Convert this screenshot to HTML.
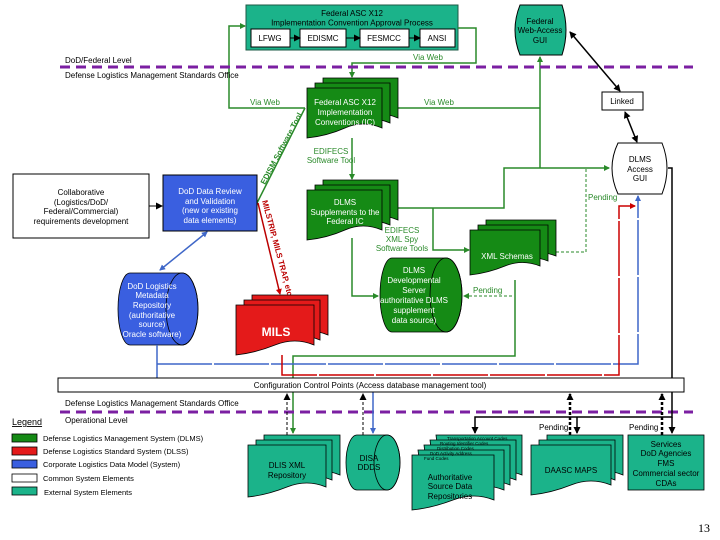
<!DOCTYPE html>
<html><head><meta charset="utf-8"><style>
html,body{margin:0;padding:0;background:#fff;}
svg{display:block;font-family:"Liberation Sans",Arial,sans-serif;}
</style></head><body>
<svg width="720" height="540" viewBox="0 0 720 540" xmlns="http://www.w3.org/2000/svg">
<defs>
<marker id="ag" markerWidth="6" markerHeight="6" refX="5" refY="3" orient="auto" markerUnits="userSpaceOnUse"><path d="M0,0 L6,3 L0,6 z" fill="#2a8a2a"/></marker>
<marker id="ak" markerWidth="7" markerHeight="7" refX="6" refY="3.5" orient="auto" markerUnits="userSpaceOnUse"><path d="M0,0 L7,3.5 L0,7 z" fill="#000"/></marker>
<marker id="aks" markerWidth="7" markerHeight="7" refX="1" refY="3.5" orient="auto" markerUnits="userSpaceOnUse"><path d="M7,0 L0,3.5 L7,7 z" fill="#000"/></marker>
<marker id="ab" markerWidth="6" markerHeight="6" refX="5" refY="3" orient="auto" markerUnits="userSpaceOnUse"><path d="M0,0 L6,3 L0,6 z" fill="#3f67c8"/></marker>
<marker id="abs" markerWidth="6" markerHeight="6" refX="1" refY="3" orient="auto" markerUnits="userSpaceOnUse"><path d="M6,0 L0,3 L6,6 z" fill="#3f67c8"/></marker>
<marker id="ar" markerWidth="6" markerHeight="6" refX="5" refY="3" orient="auto" markerUnits="userSpaceOnUse"><path d="M0,0 L6,3 L0,6 z" fill="#c00"/></marker>
</defs>

<!-- top approval box -->
<rect x="246" y="5" width="212" height="45" fill="#1bb38a" stroke="#1d5a45" stroke-width="1"/>
<text x="352" y="16" font-size="8" text-anchor="middle">Federal ASC X12</text>
<text x="352" y="25.5" font-size="8" text-anchor="middle">Implementation Convention Approval Process</text>
<g font-size="8" text-anchor="middle">
<rect x="251" y="29" width="39" height="18" fill="#fff" stroke="#000"/><text x="270" y="41">LFWG</text>
<rect x="300" y="29" width="46" height="18" fill="#fff" stroke="#000"/><text x="323" y="41">EDISMC</text>
<rect x="360" y="29" width="49" height="18" fill="#fff" stroke="#000"/><text x="384" y="41">FESMCC</text>
<rect x="420" y="29" width="35" height="18" fill="#fff" stroke="#000"/><text x="437" y="41">ANSI</text>
</g>
<g stroke="#000" stroke-width="1" marker-end="url(#ak)"><line x1="290" y1="38" x2="300" y2="38"/><line x1="346" y1="38" x2="360" y2="38"/><line x1="409" y1="38" x2="420" y2="38"/></g>

<!-- green top links -->
<g fill="none" stroke="#2a8a2a" stroke-width="1.5">
<polyline points="458,28 476,28 476,63 352,63 352,77" marker-end="url(#ag)"/>
<polyline points="305,108 229,108 229,26 245,26" marker-end="url(#ag)"/>
<polyline points="398,108 540,108"/>
<polyline points="540,168 540,57" marker-end="url(#ag)"/>
<polyline points="398,208 504,208 504,168 609,168" marker-end="url(#ag)"/>
<polyline points="433,208 433,250 469,250" marker-end="url(#ag)"/>
<polyline points="352,138 352,179" marker-end="url(#ag)"/>
<polyline points="352,238 352,296 378,296" marker-end="url(#ag)"/>
<polyline points="257,203 305,108"/>
<polyline points="515,280 515,356 293,356 293,433" marker-end="url(#ag)"/>
</g>
<g fill="none" stroke="#2a8a2a" stroke-width="1" stroke-dasharray="3,2">
<polyline points="556,252 586,252 586,168"/>
<polyline points="512,296 464,296" marker-end="url(#ag)"/>
</g>
<g font-size="8" fill="#2a8a2a">
<text x="413" y="60">Via Web</text>
<text x="250" y="105">Via Web</text>
<text x="424" y="105">Via Web</text>
<text x="330" y="154" text-anchor="middle" x-fix="0"><tspan x="331">EDIFECS</tspan><tspan x="331" dy="9">Software Tool</tspan></text>
<text x="400" y="233" text-anchor="middle"><tspan x="402">EDIFECS</tspan><tspan x="402" dy="9">XML Spy</tspan><tspan x="402" dy="9">Software Tools</tspan></text>
<text x="588" y="200">Pending</text>
<text x="473" y="293">Pending</text>
<text transform="translate(265,185) rotate(-62)" font-size="8" font-weight="bold">EDISM Software Tool</text>
</g>

<!-- purple dashed -->
<g stroke="#7b1fa2" stroke-width="3" stroke-dasharray="10,6"><line x1="60" y1="67" x2="693" y2="67"/><line x1="60" y1="412" x2="693" y2="412"/></g>
<g font-size="8">
<text x="65" y="63">DoD/Federal Level</text>
<text x="65" y="78">Defense Logistics Management  Standards Office</text>
<text x="65" y="406">Defense Logistics Management  Standards Office</text>
<text x="65" y="423">Operational Level</text>
</g>

<!-- Federal Web-Access GUI -->
<path d="M520,5 H562 Q570,30 562,55 H520 Q510,30 520,5 Z" fill="#1bb38a" stroke="#000"/>
<text font-size="8" text-anchor="middle"><tspan x="540" y="24">Federal</tspan><tspan x="540" y="33">Web-Access</tspan><tspan x="540" y="43">GUI</tspan></text>

<!-- Linked + GUI -->
<rect x="602" y="92" width="41" height="18" fill="#fff" stroke="#000"/>
<text x="622" y="104" font-size="8" text-anchor="middle">Linked</text>
<line x1="570" y1="32" x2="620" y2="91" stroke="#000" stroke-width="1.5" marker-start="url(#aks)" marker-end="url(#ak)"/>
<line x1="625" y1="112" x2="637" y2="142" stroke="#000" stroke-width="1.5" marker-start="url(#aks)" marker-end="url(#ak)"/>
<path d="M618,143 H662 Q672,168 662,194 H618 Q606,168 618,143 Z" fill="#fff" stroke="#000"/>
<text font-size="8" text-anchor="middle"><tspan x="640" y="162">DLMS</tspan><tspan x="640" y="172">Access</tspan><tspan x="640" y="181">GUI</tspan></text>

<!-- stacks -->
<g stroke="#000" stroke-width="0.8" fill="#158a15">
<!-- Federal ASC X12 IC -->
<path d="M323,78 h75 v40 q-19,-8 -37,0 t-38,10 z"/>
<path d="M315,83 h75 v40 q-19,-8 -37,0 t-38,10 z"/>
<path d="M307,88 h75 v40 q-19,-8 -37,0 t-38,10 z"/>
<!-- Supplements -->
<path d="M323,180 h75 v40 q-19,-8 -37,0 t-38,10 z"/>
<path d="M315,185 h75 v40 q-19,-8 -37,0 t-38,10 z"/>
<path d="M307,190 h75 v40 q-19,-8 -37,0 t-38,10 z"/>
<!-- XML Schemas -->
<path d="M486,220 h70 v36 q-18,-7 -35,0 t-35,9 z"/>
<path d="M478,225 h70 v36 q-18,-7 -35,0 t-35,9 z"/>
<path d="M470,230 h70 v36 q-18,-7 -35,0 t-35,9 z"/>
</g>
<g fill="#fff" font-size="8" text-anchor="middle">
<text><tspan x="345" y="105">Federal ASC X12</tspan><tspan x="345" y="115">Implementation</tspan><tspan x="345" y="125">Conventions (IC)</tspan></text>
<text><tspan x="345" y="205">DLMS</tspan><tspan x="345" y="215">Supplements to the</tspan><tspan x="345" y="224">Federal IC</tspan></text>
<text x="507" y="259">XML Schemas</text>
</g>

<!-- DLMS Dev Server cylinder -->
<path d="M392,258 H446 A16,37 0 0 1 446,332 H392 A12,37 0 0 1 392,258 Z" fill="#158a15" stroke="#000" stroke-width="0.8"/>
<ellipse cx="446" cy="295" rx="16" ry="37" fill="none" stroke="#000" stroke-width="0.8"/>
<text fill="#fff" font-size="8" text-anchor="middle"><tspan x="414" y="273">DLMS</tspan><tspan x="414" y="283">Developmental</tspan><tspan x="414" y="293">Server</tspan><tspan x="414" y="303">authoritative DLMS</tspan><tspan x="414" y="313">supplement</tspan><tspan x="414" y="323">data source)</tspan></text>

<!-- left boxes -->
<rect x="13" y="174" width="136" height="64" fill="#fff" stroke="#000"/>
<text font-size="8" text-anchor="middle"><tspan x="81" y="195">Collaborative</tspan><tspan x="81" y="205">(Logistics/DoD/</tspan><tspan x="81" y="214">Federal/Commercial)</tspan><tspan x="81" y="224">requirements development</tspan></text>
<line x1="149" y1="206" x2="162" y2="206" stroke="#000" marker-end="url(#ak)"/>
<rect x="163" y="175" width="94" height="56" fill="#3a5fe0" stroke="#000"/>
<text fill="#fff" font-size="8" text-anchor="middle"><tspan x="210" y="194">DoD Data Review</tspan><tspan x="210" y="204">and Validation</tspan><tspan x="210" y="213">(new or existing</tspan><tspan x="210" y="223">data elements)</tspan></text>
<line x1="207" y1="232" x2="160" y2="270" stroke="#3f67c8" stroke-width="1.5" marker-start="url(#abs)" marker-end="url(#ab)"/>

<!-- Repository cylinder -->
<path d="M130,273 H182 A16,36 0 0 1 182,345 H130 A12,36 0 0 1 130,273 Z" fill="#3a5fe0" stroke="#000" stroke-width="0.8"/>
<ellipse cx="182" cy="309" rx="16" ry="36" fill="none" stroke="#000" stroke-width="0.8"/>
<text fill="#fff" font-size="8" text-anchor="middle"><tspan x="152" y="289">DoD Logistics</tspan><tspan x="152" y="298">Metadata</tspan><tspan x="152" y="308">Repository</tspan><tspan x="152" y="318">(authoritative</tspan><tspan x="152" y="327">source)</tspan><tspan x="152" y="337">Oracle software)</tspan></text>

<!-- MILS line -->
<line x1="258" y1="203" x2="280" y2="294" stroke="#b00" stroke-width="1.5" marker-end="url(#ar)"/>
<text transform="translate(262,201) rotate(75)" font-size="8" font-weight="bold" fill="#b00">MILSTRIP, MILS TRAP, etc.</text>
<g stroke="#000" stroke-width="0.8" fill="#e41a1a">
<path d="M252,295 h76 v40 q-19,-8 -38,0 t-38,10 z"/>
<path d="M244,300 h76 v40 q-19,-8 -38,0 t-38,10 z"/>
<path d="M236,305 h78 v40 q-19,-8 -39,0 t-39,10 z"/>
</g>
<text x="276" y="336" fill="#fff" font-size="12" font-weight="bold" text-anchor="middle">MILS</text>

<!-- blue / red / black system lines -->
<g fill="none" stroke-width="1.5">
<polyline points="157,345 157,378" stroke="#3f67c8"/>
<polyline points="157,364 638,364 638,196" stroke="#3f67c8" marker-end="url(#ab)" stroke-dasharray="55,2"/>
<polyline points="373,392 373,433" stroke="#3f67c8" marker-end="url(#ab)"/>
<polyline points="282,355 282,375 619,375 619,206 635,206" stroke="#c00" marker-end="url(#ar)" stroke-dasharray="55,2"/>
<polyline points="668,168 672,168 672,378" stroke="#000"/>
<polyline points="672,392 672,417 475,417 475,433" stroke="#000" marker-end="url(#ak)"/>
<polyline points="577,417 577,433" stroke="#000" marker-end="url(#ak)"/>
<polyline points="672,417 672,433" stroke="#000" marker-end="url(#ak)"/>
</g>
<g fill="none" stroke="#000" stroke-dasharray="3,2">
<line x1="287" y1="435" x2="287" y2="394" stroke-width="1" marker-end="url(#ak)"/>
<line x1="363" y1="435" x2="363" y2="394" stroke-width="1" marker-end="url(#ak)"/>
<line x1="570" y1="435" x2="570" y2="394" stroke-width="2.5" marker-end="url(#ak)"/>
<line x1="662" y1="435" x2="662" y2="394" stroke-width="2.5" marker-end="url(#ak)"/>
</g>

<!-- config bar -->
<rect x="58" y="378" width="626" height="14" fill="#fff" stroke="#000"/>
<text x="370" y="388" font-size="8" text-anchor="middle">Configuration Control Points (Access database management tool)</text>

<!-- legend -->
<text x="12" y="425" font-size="9" text-decoration="underline">Legend</text>
<g stroke="#000" stroke-width="0.8">
<rect x="12" y="434" width="25" height="8" fill="#158a15"/>
<rect x="12" y="447" width="25" height="8" fill="#e41a1a"/>
<rect x="12" y="460" width="25" height="8" fill="#3a5fe0"/>
<rect x="12" y="474" width="25" height="8" fill="#fff"/>
<rect x="12" y="487" width="25" height="8" fill="#1bb38a"/>
</g>
<g font-size="7.5">
<text x="43" y="441">Defense Logistics Management System (DLMS)</text>
<text x="43" y="454">Defense Logistics Standard System (DLSS)</text>
<text x="43" y="467">Corporate Logistics Data Model (System)</text>
<text x="43" y="481">Common System Elements</text>
<text x="44" y="495">External System Elements</text>
</g>

<!-- bottom external -->
<g stroke="#000" stroke-width="0.8" fill="#1bb38a">
<path d="M264,435 h76 v40 q-19,-8 -38,0 t-38,10 z"/>
<path d="M256,440 h76 v40 q-19,-8 -38,0 t-38,10 z"/>
<path d="M248,445 h78 v42 q-19,-8 -39,0 t-39,10 z"/>
<path d="M547,435 h76 v40 q-19,-8 -38,0 t-38,10 z"/>
<path d="M539,440 h76 v40 q-19,-8 -38,0 t-38,10 z"/>
<path d="M531,445 h80 v40 q-20,-8 -40,0 t-40,10 z"/>
<path d="M436,435 h86 v40 q-20,-8 -40,0 t-40,10 z"/>
<path d="M430,440 h86 v40 q-20,-8 -40,0 t-40,10 z"/>
<path d="M424,445 h86 v40 q-20,-8 -40,0 t-40,10 z"/>
<path d="M418,450 h86 v40 q-20,-8 -40,0 t-40,10 z"/>
<path d="M412,455 h82 v45 q-20,-8 -41,0 t-41,10 z"/>
<rect x="628" y="435" width="76" height="55"/>
</g>
<path d="M357,435 H387 A13,27.5 0 0 1 387,490 H357 A11,27.5 0 0 1 357,435 Z" fill="#1bb38a" stroke="#000" stroke-width="0.8"/>
<ellipse cx="387" cy="462.5" rx="13" ry="27.5" fill="none" stroke="#000" stroke-width="0.8"/>
<g font-size="8" text-anchor="middle">
<text><tspan x="287" y="468">DLIS XML</tspan><tspan x="287" y="478">Repository</tspan></text>
<text><tspan x="369" y="461">DISA</tspan><tspan x="369" y="470">DDDS</tspan></text>
<text><tspan x="450" y="480">Authoritative</tspan><tspan x="450" y="489">Source Data</tspan><tspan x="450" y="499">Repositories</tspan></text>
<text x="571" y="473">DAASC MAPS</text>
<text><tspan x="666" y="447">Services</tspan><tspan x="666" y="456">DoD Agencies</tspan><tspan x="666" y="466">FMS</tspan><tspan x="666" y="476">Commercial sector</tspan><tspan x="666" y="486">CDAs</tspan></text>
</g>
<g font-size="4.5" text-anchor="start">
<text x="447" y="440">Transportation Account Codes</text>
<text x="440" y="445">Routing Identifier Codes</text>
<text x="437" y="450">Distribution Codes</text>
<text x="430" y="455">DoD Activity Address</text>
<text x="424" y="460">Fund Codes</text>
</g>
<g font-size="8">
<text x="539" y="430">Pending</text>
<text x="629" y="430">Pending</text>
</g>
<text x="698" y="532" font-family="Liberation Serif,serif" font-size="12">13</text>
</svg>
</body></html>
